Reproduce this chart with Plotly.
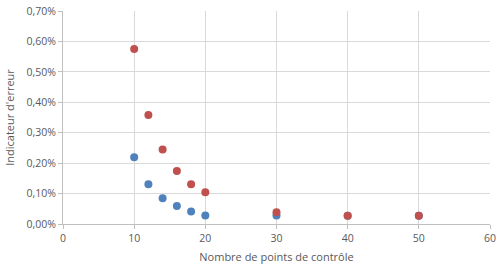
import plotly.graph_objects as go

x_points = [10, 12, 14, 16, 18, 20, 30, 40, 50]
serie_bleue = [0.219, 0.131, 0.085, 0.059, 0.041, 0.028, 0.028, 0.027, 0.027]
serie_rouge = [0.575, 0.358, 0.245, 0.174, 0.131, 0.104, 0.039, 0.027, 0.027]
y_ticks = [0, 0.1, 0.2, 0.3, 0.4, 0.5, 0.6, 0.7]
y_tick_labels = ["0,00%", "0,10%", "0,20%", "0,30%", "0,40%", "0,50%", "0,60%", "0,70%"]
x_ticks = [0, 10, 20, 30, 40, 50, 60]

fig = go.Figure()
fig.add_trace(go.Scatter(x=x_points, y=serie_bleue, mode="markers",
                         marker=dict(color="#4F81BD", size=8), showlegend=False))
fig.add_trace(go.Scatter(x=x_points, y=serie_rouge, mode="markers",
                         marker=dict(color="#C0504D", size=8), showlegend=False))

font = dict(family="Open Sans, Liberation Sans, sans-serif", size=10.5, color="#595959")
fig.update_layout(
    width=498, height=265,
    margin=dict(l=63, r=8, t=11, b=41),
    paper_bgcolor="white", plot_bgcolor="white",
    font=font,
    xaxis=dict(range=[0, 60], tickvals=x_ticks, showgrid=True, gridcolor="#D9D9D9",
               showline=True, linecolor="#BFBFBF", zeroline=False, automargin=False,
               ticks="outside", ticklen=4, tickcolor="#BFBFBF",
               title=dict(text="Nombre de points de contrôle", font=dict(size=11), standoff=9)),
    yaxis=dict(range=[0, 0.7], tickvals=y_ticks, ticktext=y_tick_labels, showgrid=True,
               gridcolor="#D9D9D9", showline=True, linecolor="#BFBFBF", zeroline=False,
               automargin=False,
               ticks="outside", ticklen=4, tickcolor="#BFBFBF",
               title=dict(text="Indicateur d'erreur", font=dict(size=11), standoff=9)),
)
fig.write_html("out.html", config={"displayModeBar": False},
               post_script="document.body.style.margin='0';")
